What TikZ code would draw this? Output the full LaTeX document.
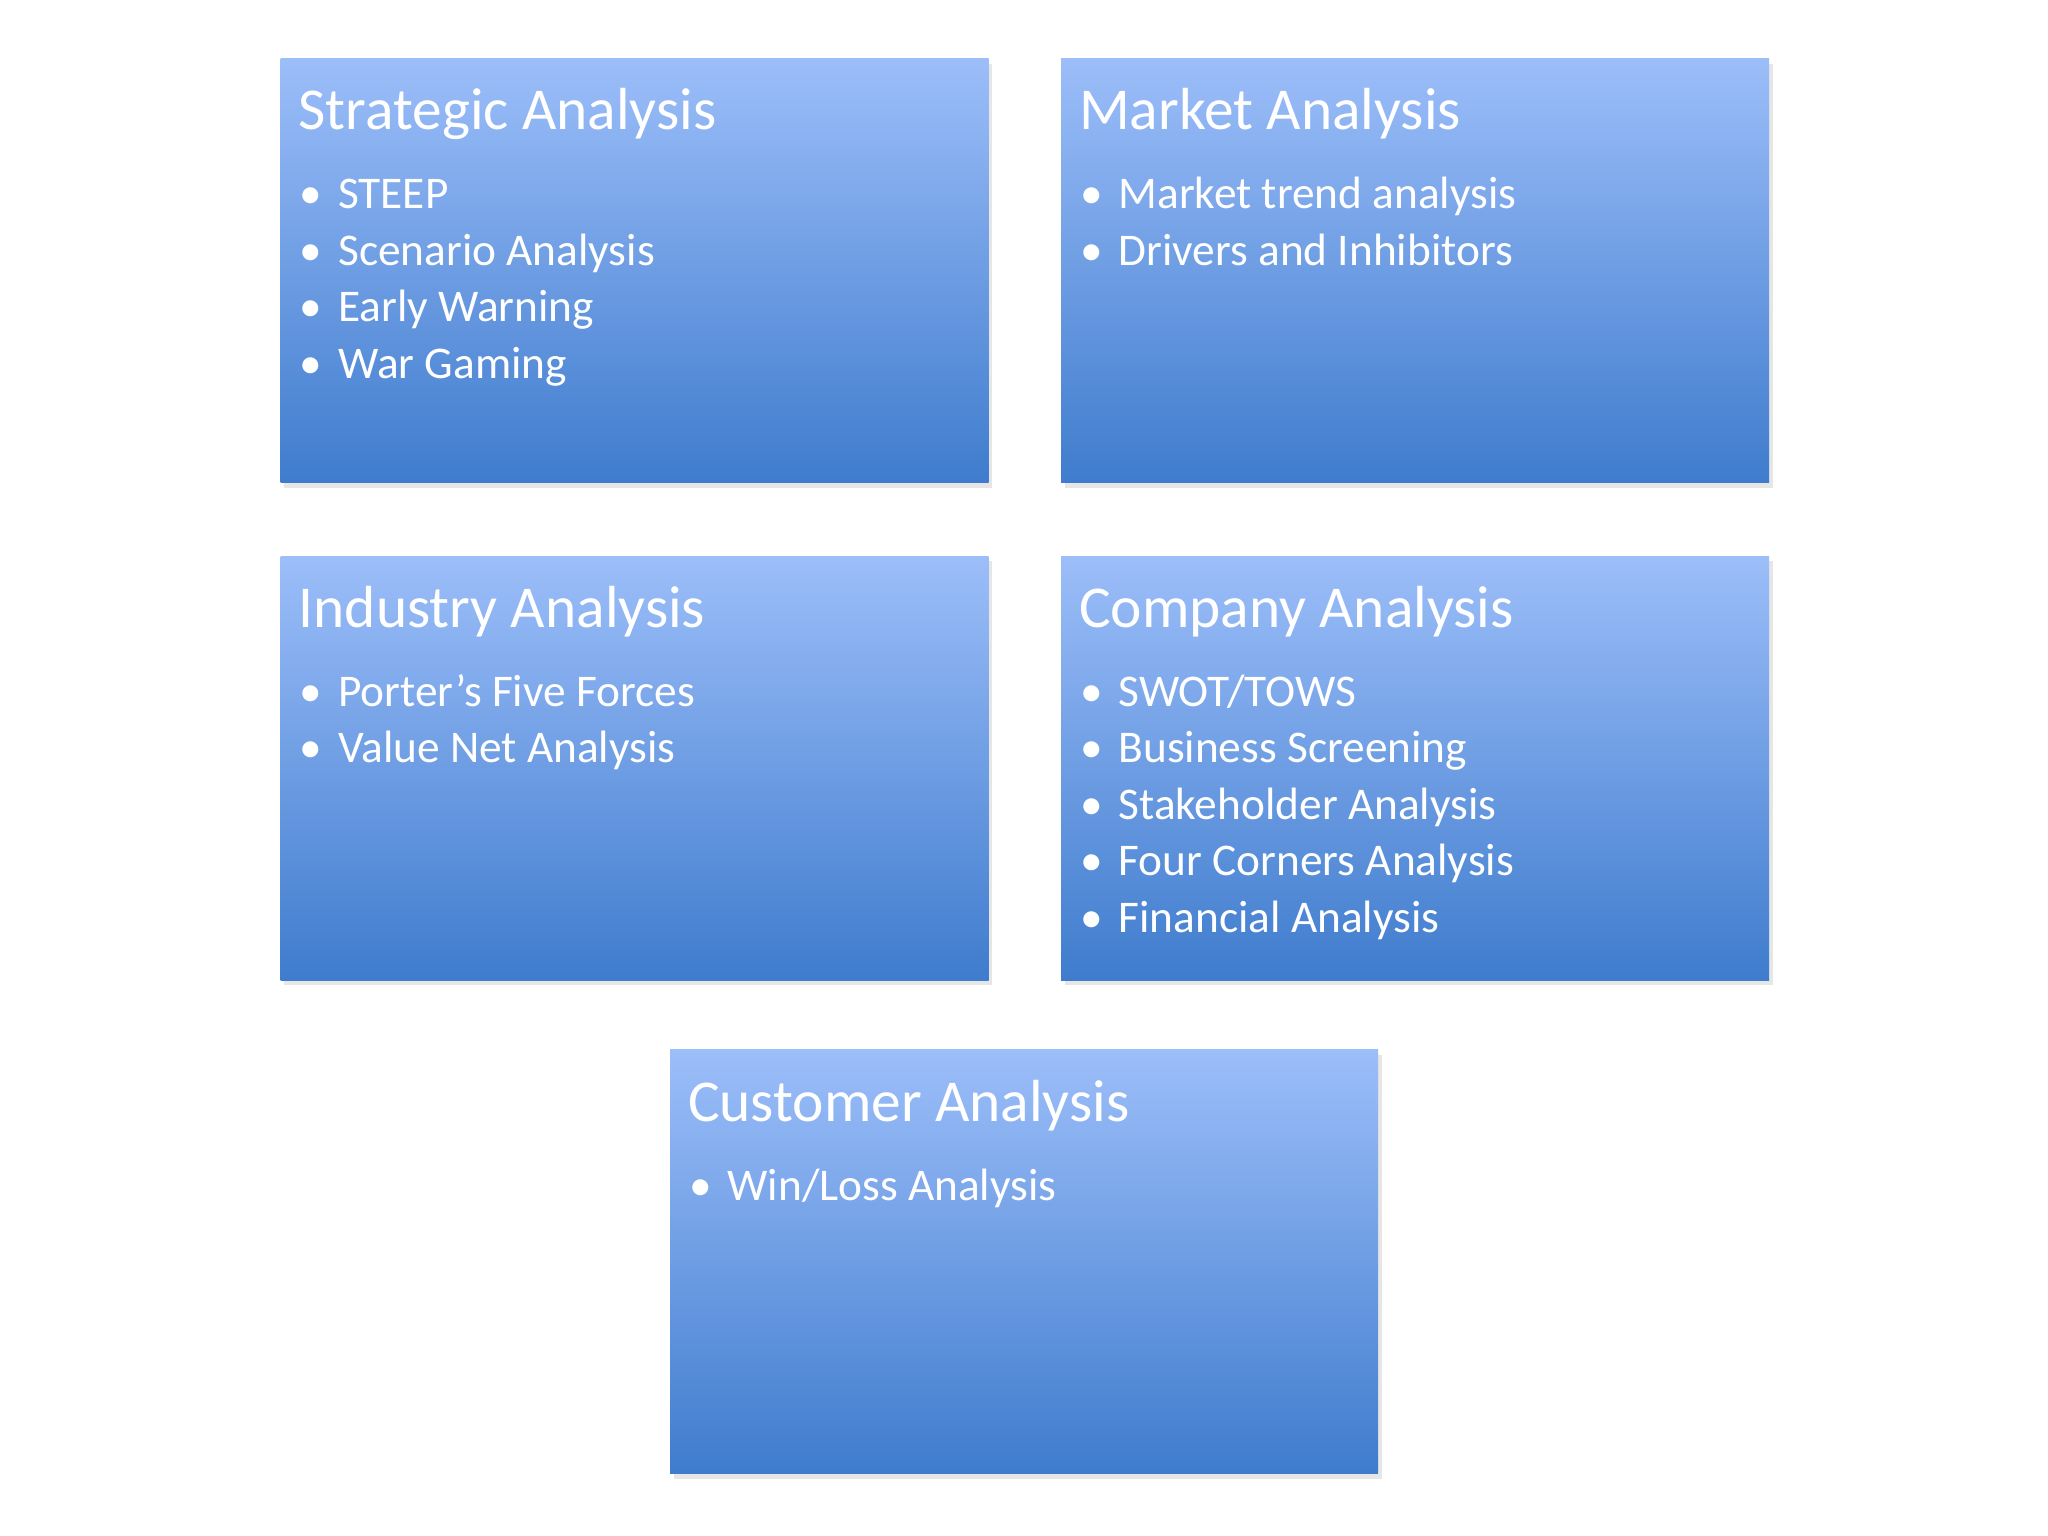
\documentclass[tikz,border=0pt]{standalone}
\usepackage{fontspec}
\setmainfont{Carlito}
\usetikzlibrary{positioning,shadows}
\definecolor{boxtop}{RGB}{156,190,249}
\definecolor{boxbottom}{RGB}{63,124,205}

\begin{document}
\begin{tikzpicture}[box/.style={rectangle, draw=none, top color=boxtop, bottom color=boxbottom, minimum width=7.08cm, minimum height=4.24cm, inner sep=0pt, drop shadow={shadow xshift=1pt, shadow yshift=-1.5pt, opacity=0.2}},
  head/.style={anchor=base west, inner sep=0pt, text=white, font=\fontsize{16.9pt}{20pt}\selectfont},
  item/.style={anchor=base west, inner sep=0pt, text=white, font=\fontsize{12.9pt}{15pt}\selectfont, execute at begin node={\makebox[0.385cm][l]{\textbullet}}}]
\useasboundingbox (0,0) rectangle (20.48,-15.36);
\node [box, anchor=north west] (strat) at (2.80,-0.58) {};
\node [box, right=0.71cm of strat] (market) {};
\node [box, below=0.72cm of strat] (industry) {};
\node [box, right=0.71cm of industry] (company) {};
\node [box, anchor=north] (customer) at (10.24,-10.49) {};

\node [head] (strat-head) at ([xshift=0.18cm, yshift=-0.72cm]strat.north west) {Strategic Analysis};
\node [head] (market-head) at ([xshift=0.18cm, yshift=-0.72cm]market.north west) {Market Analysis};
\node [head] (industry-head) at ([xshift=0.18cm, yshift=-0.72cm]industry.north west) {Industry Analysis};
\node [head] (company-head) at ([xshift=0.18cm, yshift=-0.72cm]company.north west) {Company Analysis};
\node [head] (customer-head) at ([xshift=0.18cm, yshift=-0.72cm]customer.north west) {Customer Analysis};

\foreach \t [count=\i] in {STEEP, Scenario Analysis, Early Warning, War Gaming}
  \node [item] (strat-\i) at ([xshift=0.19cm, yshift={-1.51cm-(\i-1)*0.565cm}]strat.north west) {\t};
\foreach \t [count=\i] in {Market trend analysis, Drivers and Inhibitors}
  \node [item] (market-\i) at ([xshift=0.19cm, yshift={-1.51cm-(\i-1)*0.565cm}]market.north west) {\t};
\foreach \t [count=\i] in {Porter’s Five Forces, Value Net Analysis}
  \node [item] (industry-\i) at ([xshift=0.19cm, yshift={-1.51cm-(\i-1)*0.565cm}]industry.north west) {\t};
\foreach \t [count=\i] in {SWOT/TOWS, Business Screening, Stakeholder Analysis, Four Corners Analysis, Financial Analysis}
  \node [item] (company-\i) at ([xshift=0.19cm, yshift={-1.51cm-(\i-1)*0.565cm}]company.north west) {\t};
\foreach \t [count=\i] in {Win/Loss Analysis}
  \node [item] (customer-\i) at ([xshift=0.19cm, yshift={-1.51cm-(\i-1)*0.565cm}]customer.north west) {\t};
\end{tikzpicture}
\end{document}
